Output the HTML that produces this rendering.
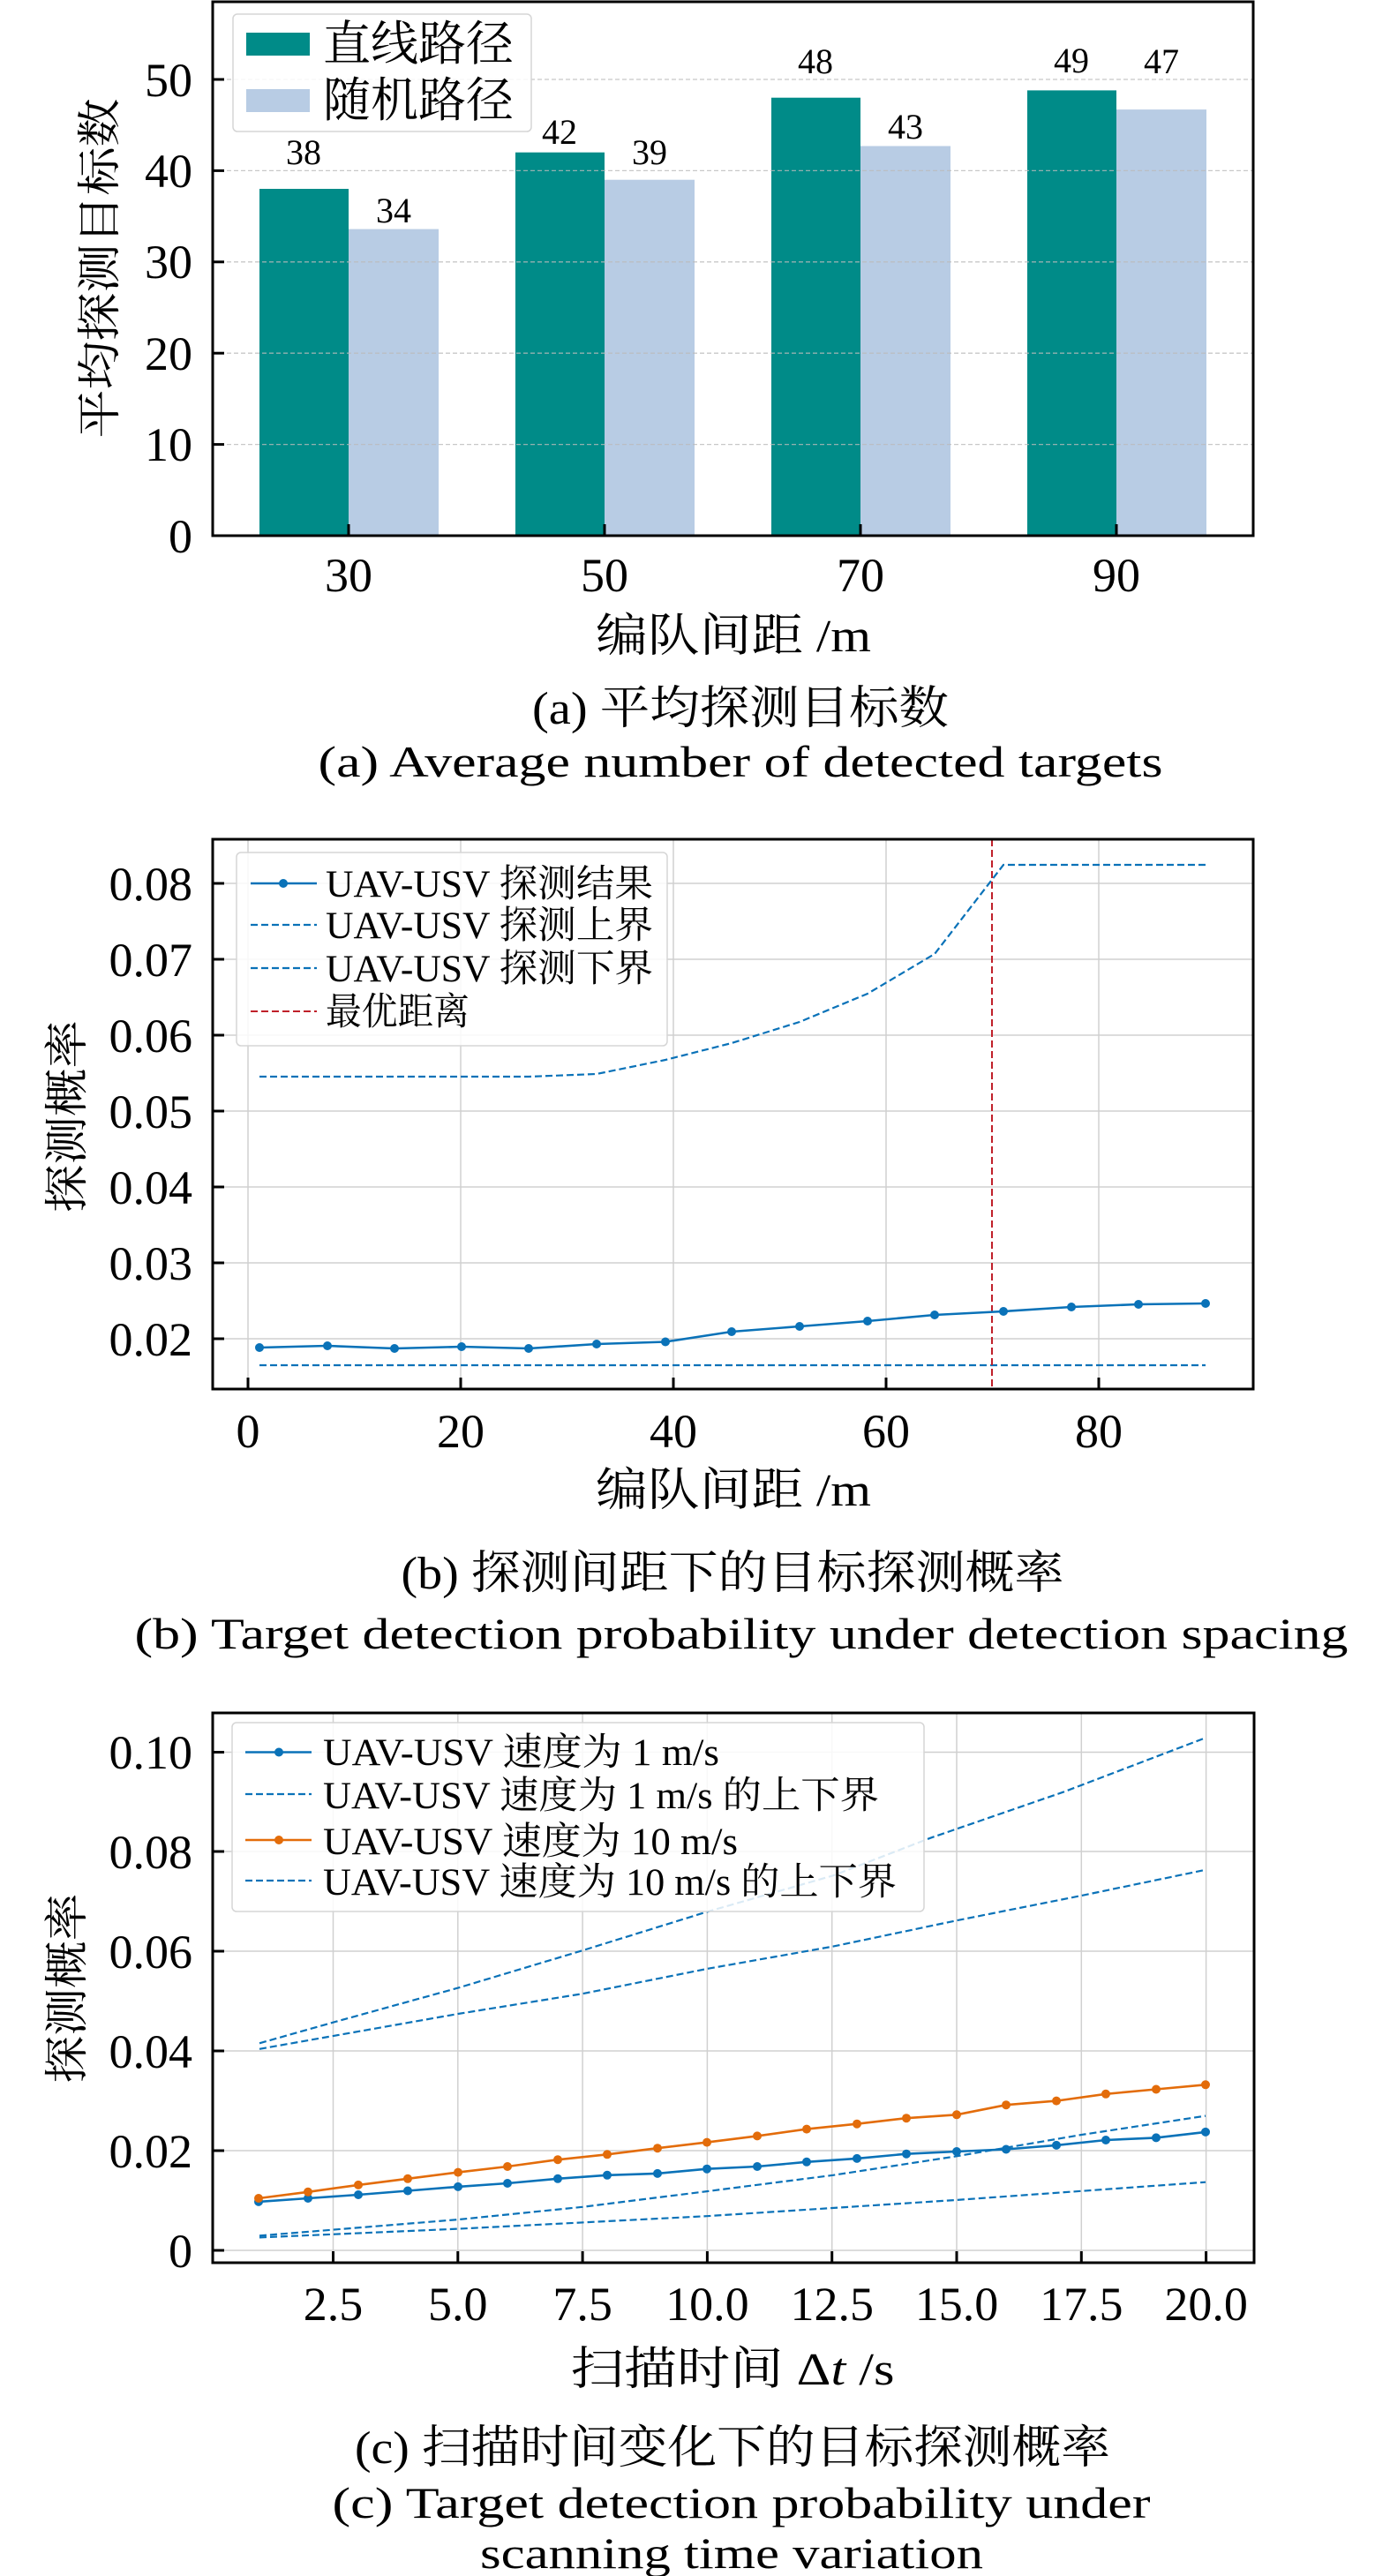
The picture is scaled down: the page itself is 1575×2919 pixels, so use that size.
<!DOCTYPE html>
<html><head><meta charset="utf-8"><style>
html,body{margin:0;padding:0;background:#fff}
svg{display:block}
text{font-family:"Liberation Serif","Noto Serif CJK SC",serif;fill:#000}
</style></head><body>
<svg width="1575" height="2919" viewBox="0 0 1575 2919" xmlns="http://www.w3.org/2000/svg">
<!-- ============ Chart A ============ -->
<g>
<rect x="294" y="214" width="101" height="393" fill="#008b88"/>
<rect x="395" y="259.6" width="102" height="347.4" fill="#b8cce4"/>
<rect x="584" y="172.7" width="101" height="434.3" fill="#008b88"/>
<rect x="685" y="203.7" width="102" height="403.3" fill="#b8cce4"/>
<rect x="874" y="110.7" width="101" height="496.3" fill="#008b88"/>
<rect x="975" y="165.5" width="102" height="441.5" fill="#b8cce4"/>
<rect x="1164" y="102.4" width="101" height="504.6" fill="#008b88"/>
<rect x="1265" y="124.1" width="102" height="482.9" fill="#b8cce4"/>
<g stroke="#bbb" stroke-width="1.3" stroke-dasharray="5,3" opacity="0.8">
<line x1="241" y1="503.6" x2="1420" y2="503.6"/><line x1="241" y1="400.2" x2="1420" y2="400.2"/>
<line x1="241" y1="296.8" x2="1420" y2="296.8"/><line x1="241" y1="193.4" x2="1420" y2="193.4"/>
<line x1="241" y1="90" x2="1420" y2="90"/>
</g>
<rect x="241" y="2" width="1179" height="605" fill="none" stroke="#000" stroke-width="3"/>
<g stroke="#000" stroke-width="3">
<line x1="241" y1="607" x2="254" y2="607"/><line x1="241" y1="503.6" x2="254" y2="503.6"/>
<line x1="241" y1="400.2" x2="254" y2="400.2"/><line x1="241" y1="296.8" x2="254" y2="296.8"/>
<line x1="241" y1="193.4" x2="254" y2="193.4"/><line x1="241" y1="90" x2="254" y2="90"/>
<line x1="395" y1="607" x2="395" y2="594"/><line x1="685" y1="607" x2="685" y2="594"/>
<line x1="975" y1="607" x2="975" y2="594"/><line x1="1265" y1="607" x2="1265" y2="594"/>
</g>
<g font-size="54" text-anchor="end">
<text x="218" y="626">0</text><text x="218" y="522">10</text><text x="218" y="419">20</text>
<text x="218" y="315">30</text><text x="218" y="212">40</text><text x="218" y="109">50</text>
</g>
<g font-size="54" text-anchor="middle">
<text x="395" y="670">30</text><text x="685" y="670">50</text><text x="975" y="670">70</text><text x="1265" y="670">90</text>
</g>
<g font-size="40" text-anchor="middle">
<text x="344" y="186">38</text><text x="446" y="252">34</text>
<text x="634" y="163">42</text><text x="736" y="186">39</text>
<text x="924" y="83">48</text><text x="1026" y="157">43</text>
<text x="1214" y="82">49</text><text x="1316" y="83">47</text>
</g>
<rect x="264" y="16" width="338" height="133" rx="5" fill="#fff" fill-opacity="0.85" stroke="#d5d5d5" stroke-width="1.5"/>
<rect x="279" y="37" width="72" height="26" fill="#008b88"/>
<rect x="279" y="101" width="72" height="26" fill="#b8cce4"/>
<g font-size="54"><text x="366" y="68" textLength="216" lengthAdjust="spacingAndGlyphs">直线路径</text>
<text x="366" y="132" textLength="216" lengthAdjust="spacingAndGlyphs">随机路径</text></g>
<text transform="translate(130,304) rotate(-90)" font-size="50" text-anchor="middle" textLength="385" lengthAdjust="spacingAndGlyphs">平均探测目标数</text>
<text x="831" y="738" font-size="52" text-anchor="middle" textLength="312" lengthAdjust="spacingAndGlyphs">编队间距 /m</text>
<text x="839" y="820" font-size="52" text-anchor="middle" textLength="472" lengthAdjust="spacingAndGlyphs">(a) 平均探测目标数</text>
<text x="839" y="880" font-size="50" text-anchor="middle" textLength="957" lengthAdjust="spacingAndGlyphs">(a) Average number of detected targets</text>
</g>

<!-- ============ Chart B ============ -->
<g>
<g stroke="#d0d0d0" stroke-width="1.5">
<line x1="281" y1="951" x2="281" y2="1574"/><line x1="522" y1="951" x2="522" y2="1574"/>
<line x1="763" y1="951" x2="763" y2="1574"/><line x1="1004" y1="951" x2="1004" y2="1574"/>
<line x1="1245" y1="951" x2="1245" y2="1574"/>
<line x1="241" y1="1517" x2="1420" y2="1517"/><line x1="241" y1="1431" x2="1420" y2="1431"/>
<line x1="241" y1="1345" x2="1420" y2="1345"/><line x1="241" y1="1259" x2="1420" y2="1259"/>
<line x1="241" y1="1173" x2="1420" y2="1173"/><line x1="241" y1="1087" x2="1420" y2="1087"/>
<line x1="241" y1="1001" x2="1420" y2="1001"/>
</g>
<g fill="none" stroke="#0a72b8" stroke-width="2.2" stroke-dasharray="8,4">
<polyline points="294,1547 1366,1547"/>
<polyline points="294,1220 599,1220 676,1217 754,1201 829,1182 906,1158 983,1126 1059,1081 1137,980 1366,980"/>
</g>
<line x1="1124" y1="951" x2="1124" y2="1574" stroke="#c0202a" stroke-width="2" stroke-dasharray="8,4"/>
<g fill="#0a72b8">
<polyline fill="none" stroke="#0a72b8" stroke-width="2.6" points="294,1527 371,1525 447,1528 523,1526 599,1528 676,1523 754,1520.5 829,1509 906,1503 983,1497 1059,1490 1137,1486 1214,1481 1290,1478 1366,1477"/>
<circle cx="294" cy="1527" r="5"/><circle cx="371" cy="1525" r="5"/><circle cx="447" cy="1528" r="5"/>
<circle cx="523" cy="1526" r="5"/><circle cx="599" cy="1528" r="5"/><circle cx="676" cy="1523" r="5"/>
<circle cx="754" cy="1520.5" r="5"/><circle cx="829" cy="1509" r="5"/><circle cx="906" cy="1503" r="5"/>
<circle cx="983" cy="1497" r="5"/><circle cx="1059" cy="1490" r="5"/><circle cx="1137" cy="1486" r="5"/>
<circle cx="1214" cy="1481" r="5"/><circle cx="1290" cy="1478" r="5"/><circle cx="1366" cy="1477" r="5"/>
</g>
<rect x="241" y="951" width="1179" height="623" fill="none" stroke="#000" stroke-width="3"/>
<g stroke="#000" stroke-width="3">
<line x1="241" y1="1517" x2="254" y2="1517"/><line x1="241" y1="1431" x2="254" y2="1431"/>
<line x1="241" y1="1345" x2="254" y2="1345"/><line x1="241" y1="1259" x2="254" y2="1259"/>
<line x1="241" y1="1173" x2="254" y2="1173"/><line x1="241" y1="1087" x2="254" y2="1087"/>
<line x1="241" y1="1001" x2="254" y2="1001"/>
<line x1="281" y1="1574" x2="281" y2="1561"/><line x1="522" y1="1574" x2="522" y2="1561"/>
<line x1="763" y1="1574" x2="763" y2="1561"/><line x1="1004" y1="1574" x2="1004" y2="1561"/>
<line x1="1245" y1="1574" x2="1245" y2="1561"/>
</g>
<g font-size="54" text-anchor="end">
<text x="218" y="1536">0.02</text><text x="218" y="1450">0.03</text><text x="218" y="1364">0.04</text>
<text x="218" y="1278">0.05</text><text x="218" y="1192">0.06</text><text x="218" y="1106">0.07</text>
<text x="218" y="1020">0.08</text>
</g>
<g font-size="54" text-anchor="middle">
<text x="281" y="1640">0</text><text x="522" y="1640">20</text><text x="763" y="1640">40</text>
<text x="1004" y="1640">60</text><text x="1245" y="1640">80</text>
</g>
<rect x="268" y="966" width="488" height="219" rx="5" fill="#fff" fill-opacity="0.85" stroke="#d5d5d5" stroke-width="1.5"/>
<line x1="284" y1="1001" x2="359" y2="1001" stroke="#0a72b8" stroke-width="2.6"/><circle cx="321" cy="1001" r="5" fill="#0a72b8"/>
<line x1="284" y1="1048" x2="359" y2="1048" stroke="#0a72b8" stroke-width="2.2" stroke-dasharray="8,4"/>
<line x1="284" y1="1097" x2="359" y2="1097" stroke="#0a72b8" stroke-width="2.2" stroke-dasharray="8,4"/>
<line x1="284" y1="1146" x2="359" y2="1146" stroke="#c0202a" stroke-width="2" stroke-dasharray="8,4"/>
<g font-size="43">
<text x="369" y="1016" textLength="371" lengthAdjust="spacingAndGlyphs">UAV-USV 探测结果</text>
<text x="369" y="1063" textLength="371" lengthAdjust="spacingAndGlyphs">UAV-USV 探测上界</text>
<text x="369" y="1112" textLength="371" lengthAdjust="spacingAndGlyphs">UAV-USV 探测下界</text>
<text x="369" y="1161" textLength="163" lengthAdjust="spacingAndGlyphs">最优距离</text>
</g>
<text transform="translate(93,1265) rotate(-90)" font-size="50" text-anchor="middle" textLength="218" lengthAdjust="spacingAndGlyphs">探测概率</text>
<text x="831" y="1706" font-size="52" text-anchor="middle" textLength="312" lengthAdjust="spacingAndGlyphs">编队间距 /m</text>
<text x="830" y="1800" font-size="52" text-anchor="middle" textLength="751" lengthAdjust="spacingAndGlyphs">(b) 探测间距下的目标探测概率</text>
<text x="840" y="1868" font-size="50" text-anchor="middle" textLength="1375" lengthAdjust="spacingAndGlyphs">(b) Target detection probability under detection spacing</text>
</g>

<!-- ============ Chart C ============ -->
<g>
<g stroke="#d0d0d0" stroke-width="1.5">
<line x1="377.5" y1="1941" x2="377.5" y2="2564"/><line x1="518.8" y1="1941" x2="518.8" y2="2564"/>
<line x1="660.1" y1="1941" x2="660.1" y2="2564"/><line x1="801.4" y1="1941" x2="801.4" y2="2564"/>
<line x1="942.7" y1="1941" x2="942.7" y2="2564"/><line x1="1084" y1="1941" x2="1084" y2="2564"/>
<line x1="1225.3" y1="1941" x2="1225.3" y2="2564"/><line x1="1366.6" y1="1941" x2="1366.6" y2="2564"/>
<line x1="241" y1="2550" x2="1420" y2="2550"/><line x1="241" y1="2437" x2="1420" y2="2437"/>
<line x1="241" y1="2324" x2="1420" y2="2324"/><line x1="241" y1="2211" x2="1420" y2="2211"/>
<line x1="241" y1="2098" x2="1420" y2="2098"/><line x1="241" y1="1985.5" x2="1420" y2="1985.5"/>
</g>
<g fill="none" stroke="#0a72b8" stroke-width="2.2" stroke-dasharray="8,4">
<polyline points="294,2315.3 377,2291.8 519,2252.6 660,2210.2 801,2166.4 944,2125.3 1054,2082.8 1205,2030.6 1366,1969.2"/>
<polyline points="294,2321.8 519,2282 660,2259.2 801,2231 944,2205.6 1084,2176.2 1225,2148.1 1366,2118.8"/>
<polyline points="294,2533.4 519,2515.1 660,2500.8 801,2483.1 944,2464.8 1084,2443.3 1225,2419.1 1366,2397.6"/>
<polyline points="294,2535.4 519,2525.6 801,2511.2 1084,2492.9 1366,2472.7"/>
</g>
<polyline fill="none" stroke="#0a72b8" stroke-width="2.6" points="293,2494.9 349,2491 406,2487 462,2482.5 519,2477.9 575,2474 632,2468.8 688,2464.8 745,2462.9 801,2457.7 858,2455 914,2449.8 971,2445.9 1027,2440.7 1084,2438 1140,2435.5 1197,2430.9 1253,2425 1310,2422.4 1366,2415.9"/>
<polyline fill="none" stroke="#e36c0a" stroke-width="2.6" points="293,2491 349,2483.8 406,2475.9 462,2468.8 519,2461.6 575,2455 632,2447.2 688,2441.3 745,2434.2 801,2427.6 858,2420.4 914,2412.6 971,2406.7 1027,2400.2 1084,2396.3 1140,2385.2 1197,2380.6 1253,2372.8 1310,2367.5 1366,2362.3"/>
<g fill="#0a72b8">
<circle cx="293" cy="2494.9" r="5"/><circle cx="349" cy="2491" r="5"/><circle cx="406" cy="2487" r="5"/><circle cx="462" cy="2482.5" r="5"/><circle cx="519" cy="2477.9" r="5"/><circle cx="575" cy="2474" r="5"/><circle cx="632" cy="2468.8" r="5"/><circle cx="688" cy="2464.8" r="5"/><circle cx="745" cy="2462.9" r="5"/><circle cx="801" cy="2457.7" r="5"/><circle cx="858" cy="2455" r="5"/><circle cx="914" cy="2449.8" r="5"/><circle cx="971" cy="2445.9" r="5"/><circle cx="1027" cy="2440.7" r="5"/><circle cx="1084" cy="2438" r="5"/><circle cx="1140" cy="2435.5" r="5"/><circle cx="1197" cy="2430.9" r="5"/><circle cx="1253" cy="2425" r="5"/><circle cx="1310" cy="2422.4" r="5"/><circle cx="1366" cy="2415.9" r="5"/>
</g>
<g fill="#e36c0a">
<circle cx="293" cy="2491" r="5"/><circle cx="349" cy="2483.8" r="5"/><circle cx="406" cy="2475.9" r="5"/><circle cx="462" cy="2468.8" r="5"/><circle cx="519" cy="2461.6" r="5"/><circle cx="575" cy="2455" r="5"/><circle cx="632" cy="2447.2" r="5"/><circle cx="688" cy="2441.3" r="5"/><circle cx="745" cy="2434.2" r="5"/><circle cx="801" cy="2427.6" r="5"/><circle cx="858" cy="2420.4" r="5"/><circle cx="914" cy="2412.6" r="5"/><circle cx="971" cy="2406.7" r="5"/><circle cx="1027" cy="2400.2" r="5"/><circle cx="1084" cy="2396.3" r="5"/><circle cx="1140" cy="2385.2" r="5"/><circle cx="1197" cy="2380.6" r="5"/><circle cx="1253" cy="2372.8" r="5"/><circle cx="1310" cy="2367.5" r="5"/><circle cx="1366" cy="2362.3" r="5"/>
</g>
<rect x="241" y="1941" width="1180" height="623" fill="none" stroke="#000" stroke-width="3"/>
<g stroke="#000" stroke-width="3">
<line x1="241" y1="2550" x2="254" y2="2550"/><line x1="241" y1="2437" x2="254" y2="2437"/>
<line x1="241" y1="2324" x2="254" y2="2324"/><line x1="241" y1="2211" x2="254" y2="2211"/>
<line x1="241" y1="2098" x2="254" y2="2098"/><line x1="241" y1="1985.5" x2="254" y2="1985.5"/>
<line x1="377.5" y1="2564" x2="377.5" y2="2551"/><line x1="518.8" y1="2564" x2="518.8" y2="2551"/>
<line x1="660.1" y1="2564" x2="660.1" y2="2551"/><line x1="801.4" y1="2564" x2="801.4" y2="2551"/>
<line x1="942.7" y1="2564" x2="942.7" y2="2551"/><line x1="1084" y1="2564" x2="1084" y2="2551"/>
<line x1="1225.3" y1="2564" x2="1225.3" y2="2551"/><line x1="1366.6" y1="2564" x2="1366.6" y2="2551"/>
</g>
<g font-size="54" text-anchor="end">
<text x="218" y="2569">0</text><text x="218" y="2456">0.02</text><text x="218" y="2343">0.04</text>
<text x="218" y="2230">0.06</text><text x="218" y="2117">0.08</text><text x="218" y="2004">0.10</text>
</g>
<g font-size="54" text-anchor="middle">
<text x="377.5" y="2629">2.5</text><text x="518.8" y="2629">5.0</text><text x="660.1" y="2629">7.5</text>
<text x="801.4" y="2629">10.0</text><text x="942.7" y="2629">12.5</text><text x="1084" y="2629">15.0</text>
<text x="1225.3" y="2629">17.5</text><text x="1366.6" y="2629">20.0</text>
</g>
<rect x="263" y="1952" width="784" height="214" rx="5" fill="#fff" fill-opacity="0.85" stroke="#d5d5d5" stroke-width="1.5"/>
<line x1="278" y1="1985.5" x2="353" y2="1985.5" stroke="#0a72b8" stroke-width="2.6"/><circle cx="316" cy="1985.5" r="5" fill="#0a72b8"/>
<line x1="278" y1="2033" x2="353" y2="2033" stroke="#0a72b8" stroke-width="2.2" stroke-dasharray="8,4"/>
<line x1="278" y1="2085" x2="353" y2="2085" stroke="#e36c0a" stroke-width="2.6"/><circle cx="316" cy="2085" r="5" fill="#e36c0a"/>
<line x1="278" y1="2131" x2="353" y2="2131" stroke="#0a72b8" stroke-width="2.2" stroke-dasharray="8,4"/>
<g font-size="43">
<text x="366" y="2000" textLength="449" lengthAdjust="spacingAndGlyphs">UAV-USV 速度为 1 m/s</text>
<text x="366" y="2049" textLength="630" lengthAdjust="spacingAndGlyphs">UAV-USV 速度为 1 m/s 的上下界</text>
<text x="366" y="2101" textLength="470" lengthAdjust="spacingAndGlyphs">UAV-USV 速度为 10 m/s</text>
<text x="366" y="2147" textLength="650" lengthAdjust="spacingAndGlyphs">UAV-USV 速度为 10 m/s 的上下界</text>
</g>
<text transform="translate(93,2253) rotate(-90)" font-size="50" text-anchor="middle" textLength="215" lengthAdjust="spacingAndGlyphs">探测概率</text>
<text x="830" y="2702" font-size="52" text-anchor="middle" textLength="367" lengthAdjust="spacingAndGlyphs">扫描时间 Δ<tspan font-style="italic">t</tspan> /s</text>
<text x="830" y="2791" font-size="52" text-anchor="middle" textLength="856" lengthAdjust="spacingAndGlyphs">(c) 扫描时间变化下的目标探测概率</text>
<text x="840" y="2853" font-size="50" text-anchor="middle" textLength="927" lengthAdjust="spacingAndGlyphs">(c) Target detection probability under</text>
<text x="829" y="2910" font-size="50" text-anchor="middle" textLength="570" lengthAdjust="spacingAndGlyphs">scanning time variation</text>
</g>
</svg>
</body></html>
